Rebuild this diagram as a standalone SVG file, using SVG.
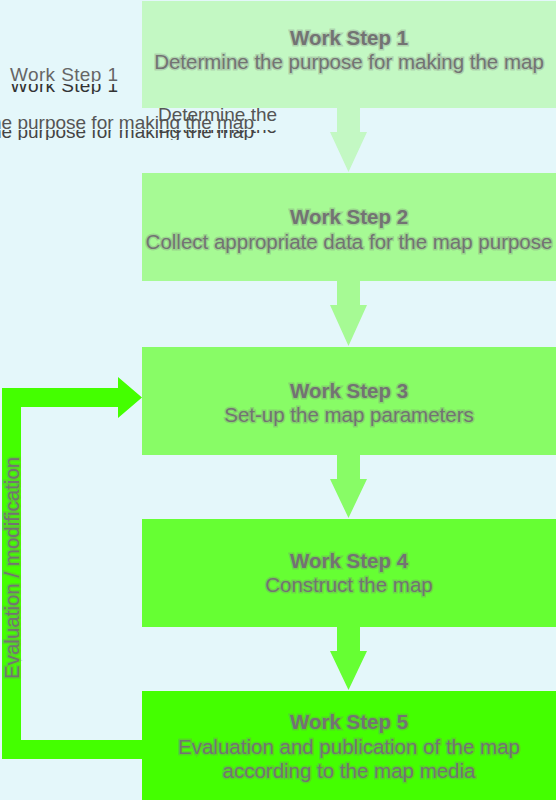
<svg xmlns="http://www.w3.org/2000/svg" width="556" height="800" viewBox="0 0 556 800">
<style>
.t{font-family:"Liberation Sans",Arial,sans-serif;font-size:20.5px;fill:#737373;text-anchor:middle;stroke:#7a7a7a;stroke-opacity:.3;stroke-width:3;paint-order:stroke}
.b{font-weight:bold}
.s{font-family:"Liberation Sans",Arial,sans-serif;font-size:19px;fill:#555}
</style>
<defs>
<clipPath id="c2"><rect x="0" y="62" width="140" height="20"/></clipPath>
<clipPath id="c3"><rect x="0" y="84" width="140" height="10"/></clipPath>
<clipPath id="d2"><rect x="0" y="108" width="290" height="21"/></clipPath>
<clipPath id="d3"><rect x="0" y="130" width="290" height="10"/></clipPath>
</defs>
<rect width="556" height="800" fill="#E4F7FA"/>

<g id="stray">
<text class="s" x="10" y="81" textLength="108" clip-path="url(#c2)" style="fill:#666">Work Step 1</text>
<text class="s" x="10" y="92" textLength="108" clip-path="url(#c3)" style="fill:#333">Work Step 1</text>
<text class="s" x="158" y="121" textLength="119" clip-path="url(#d2)">Determine the</text>
<text class="s" x="158" y="133" textLength="119" clip-path="url(#d3)" style="fill:#444">Determine the</text>
<text class="s" x="254" y="129" text-anchor="end" clip-path="url(#d2)">the purpose for making the map</text>
<text class="s" x="254" y="138" text-anchor="end" clip-path="url(#d3)" style="fill:#444">the purpose for making the map</text>
</g>

<g id="connectors">
<polygon fill="#C3F8C3" points="337,108 360,108 360,132 367,132 348.5,172 330,132 337,132"/>
<polygon fill="#A6FA94" points="337,281 360,281 360,305 367,305 348.5,346 330,305 337,305"/>
<polygon fill="#88FC66" points="337,455 360,455 360,479 367,479 348.5,518 330,479 337,479"/>
<polygon fill="#66FF33" points="337,627 360,627 360,651 367,651 348.5,690 330,651 337,651"/>
<polygon fill="#44FF00" points="143,740 143,759 2,759 2,388 118,388 118,377 142,397.5 118,418 118,407 21,407 21,740"/>
<text class="t" transform="translate(19,679) rotate(-90)" style="text-anchor:start">Evaluation / modification</text>
</g>

<g id="step1">
<rect x="142" y="1" width="414" height="107" fill="#C3F8C3"/>
<text class="t b" x="349" y="45">Work Step 1</text>
<text class="t" x="349" y="69">Determine the purpose for making the map</text>
</g>
<g id="step2">
<rect x="142" y="173" width="414" height="108" fill="#A6FA94"/>
<text class="t b" x="349" y="224">Work Step 2</text>
<text class="t" x="349" y="249">Collect appropriate data for the map purpose</text>
</g>
<g id="step3">
<rect x="142" y="347" width="414" height="108" fill="#88FC66"/>
<text class="t b" x="349" y="398">Work Step 3</text>
<text class="t" x="349" y="422">Set-up the map parameters</text>
</g>
<g id="step4">
<rect x="142" y="519" width="414" height="108" fill="#66FF33"/>
<text class="t b" x="349" y="568">Work Step 4</text>
<text class="t" x="349" y="592">Construct the map</text>
</g>
<g id="step5">
<rect x="142" y="691" width="414" height="109" fill="#44FF00"/>
<text class="t b" x="349" y="729">Work Step 5</text>
<text class="t" x="349" y="754">Evaluation and publication of the map</text>
<text class="t" x="349" y="778">according to the map media</text>
</g>
</svg>
